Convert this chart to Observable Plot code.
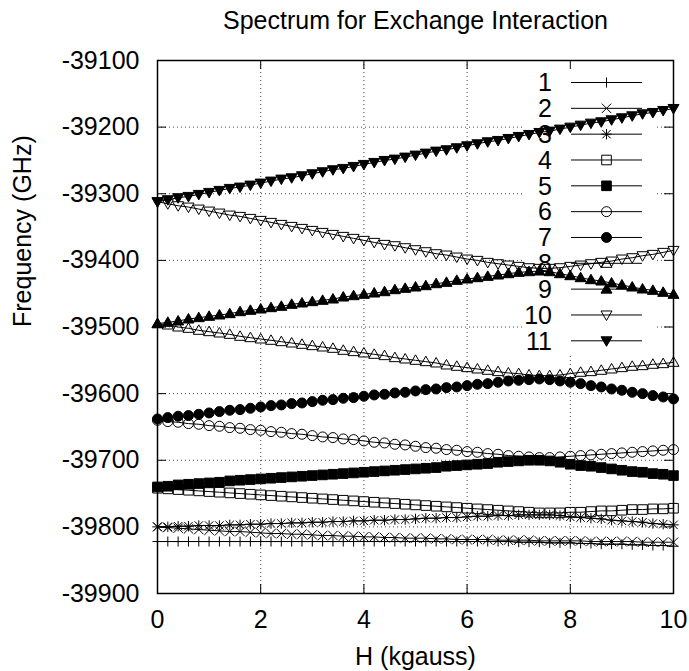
<!DOCTYPE html>
<html>
<head>
<meta charset="utf-8">
<script src="https://cdn.jsdelivr.net/npm/d3@7"></script>
<script src="https://cdn.jsdelivr.net/npm/@observablehq/plot@0.6"></script>
<style>
  html, body { margin: 0; padding: 0; background: #fff; }
  #chart { width: 689px; height: 671px; }
</style>
</head>
<body>
<div id="chart"></div>
<script>
// ---- Data ----
const H = [0,0.2,0.4,0.6,0.8,1,1.2,1.4,1.6,1.8,2,2.2,2.4,2.6,2.8,3,3.2,3.4,3.6,3.8,4,4.2,4.4,4.6,4.8,5,5.2,5.4,5.6,5.8,6,6.2,6.4,6.6,6.8,7,7.2,7.4,7.6,7.8,8,8.2,8.4,8.6,8.8,9,9.2,9.4,9.6,9.8,10];

const s1 = [-39822,-39822,-39822,-39822,-39822,-39822,-39822,-39822,-39822,-39822,-39822,-39822,-39822,-39822,-39822,-39822,-39822,-39822,-39822,-39822,-39822,-39822,-39822,-39822,-39822,-39822,-39822,-39822,-39822,-39822,-39822,-39822,-39822,-39822,-39822,-39823,-39823,-39823,-39824,-39824,-39824,-39825,-39825,-39826,-39826,-39826,-39827,-39827,-39828,-39828,-39829];
const s2 = [-39800,-39801,-39802,-39803,-39804,-39805,-39806,-39807,-39807,-39808,-39809,-39810,-39810,-39811,-39811,-39812,-39813,-39813,-39814,-39814,-39815,-39815,-39816,-39816,-39817,-39817,-39817,-39818,-39818,-39819,-39819,-39819,-39819,-39820,-39820,-39820,-39820,-39821,-39821,-39821,-39821,-39821,-39822,-39822,-39822,-39822,-39822,-39823,-39823,-39823,-39823];
const s3 = [-39800,-39800,-39799,-39799,-39798,-39798,-39798,-39797,-39797,-39796,-39796,-39795,-39795,-39794,-39794,-39793,-39793,-39792,-39792,-39791,-39791,-39790,-39790,-39789,-39789,-39788,-39787,-39787,-39786,-39786,-39785,-39784,-39784,-39783,-39783,-39782,-39782,-39782,-39782,-39783,-39785,-39786,-39787,-39788,-39790,-39791,-39792,-39793,-39795,-39796,-39797];
const s4 = [-39742,-39743,-39744,-39745,-39746,-39747,-39748,-39749,-39750,-39751,-39752,-39753,-39754,-39755,-39756,-39757,-39758,-39759,-39760,-39761,-39762,-39763,-39764,-39765,-39766,-39767,-39768,-39769,-39770,-39771,-39772,-39773,-39774,-39775,-39776,-39777,-39778,-39779,-39779,-39779,-39778,-39778,-39777,-39776,-39776,-39775,-39774,-39774,-39773,-39773,-39772];
const s5 = [-39740,-39739,-39737,-39736,-39735,-39734,-39733,-39731,-39730,-39729,-39728,-39727,-39726,-39725,-39724,-39723,-39722,-39721,-39720,-39719,-39718,-39717,-39716,-39715,-39714,-39713,-39712,-39711,-39709,-39708,-39707,-39706,-39705,-39703,-39702,-39701,-39700,-39700,-39701,-39703,-39706,-39708,-39709,-39711,-39713,-39715,-39717,-39718,-39720,-39721,-39723];
const s6 = [-39640,-39642,-39643,-39645,-39646,-39648,-39649,-39651,-39652,-39654,-39655,-39657,-39658,-39660,-39661,-39663,-39665,-39666,-39668,-39669,-39671,-39673,-39674,-39676,-39677,-39679,-39681,-39682,-39684,-39685,-39687,-39688,-39690,-39691,-39693,-39694,-39695,-39696,-39696,-39695,-39694,-39693,-39692,-39691,-39690,-39689,-39688,-39687,-39686,-39685,-39684];
const s7 = [-39638,-39636,-39634,-39633,-39631,-39629,-39627,-39625,-39624,-39622,-39620,-39618,-39617,-39615,-39614,-39612,-39610,-39609,-39607,-39606,-39604,-39602,-39601,-39599,-39598,-39596,-39594,-39593,-39591,-39590,-39588,-39586,-39585,-39583,-39581,-39580,-39579,-39578,-39579,-39581,-39583,-39585,-39588,-39590,-39593,-39595,-39598,-39600,-39603,-39605,-39608];
const s8 = [-39495,-39497,-39500,-39502,-39505,-39507,-39509,-39511,-39514,-39516,-39518,-39520,-39522,-39524,-39526,-39528,-39530,-39532,-39535,-39537,-39539,-39541,-39543,-39546,-39548,-39550,-39552,-39554,-39557,-39559,-39561,-39563,-39565,-39567,-39569,-39570,-39572,-39573,-39573,-39572,-39570,-39568,-39567,-39565,-39563,-39561,-39559,-39558,-39556,-39555,-39553];
const s9 = [-39495,-39493,-39491,-39488,-39486,-39484,-39482,-39480,-39477,-39475,-39473,-39471,-39469,-39466,-39464,-39462,-39460,-39458,-39455,-39453,-39451,-39449,-39447,-39444,-39442,-39440,-39438,-39435,-39433,-39430,-39428,-39426,-39424,-39422,-39420,-39418,-39417,-39416,-39417,-39420,-39423,-39426,-39429,-39431,-39434,-39437,-39440,-39443,-39445,-39448,-39451];
const s10 = [-39312,-39315,-39318,-39320,-39323,-39326,-39329,-39332,-39334,-39337,-39340,-39343,-39346,-39349,-39352,-39355,-39358,-39361,-39364,-39367,-39370,-39373,-39376,-39378,-39381,-39384,-39387,-39390,-39392,-39395,-39398,-39400,-39403,-39405,-39407,-39409,-39411,-39412,-39412,-39411,-39409,-39407,-39405,-39403,-39401,-39398,-39396,-39393,-39391,-39388,-39385];
const s11 = [-39312,-39309,-39306,-39304,-39301,-39298,-39295,-39292,-39290,-39287,-39284,-39281,-39278,-39276,-39273,-39270,-39267,-39264,-39262,-39259,-39256,-39253,-39250,-39248,-39245,-39242,-39239,-39236,-39234,-39231,-39228,-39225,-39222,-39220,-39217,-39214,-39211,-39208,-39206,-39203,-39200,-39197,-39194,-39192,-39189,-39186,-39183,-39180,-39178,-39175,-39172];

const seriesNames = ["1","2","3","4","5","6","7","8","9","10","11"];
const seriesValues = [s1,s2,s3,s4,s5,s6,s7,s8,s9,s10,s11];
const xTicks = [0,2,4,6,8,10];
const yTicks = [-39900,-39800,-39700,-39600,-39500,-39400,-39300,-39200,-39100];
const xGrid = [2,4,6,8];
const yGrid = [-39800,-39700,-39600,-39500,-39400,-39300,-39200];
const titleText = "Spectrum for Exchange Interaction";
const xLabel = "H (kgauss)";
const yLabel = "Frequency (GHz)";

// ---- Marker shapes (gnuplot style) ----
const sym = {
  plus:   {draw(c){ c.moveTo(-5,0); c.lineTo(5,0); c.moveTo(0,-5); c.lineTo(0,5); }},
  times:  {draw(c){ c.moveTo(-4.7,-4.7); c.lineTo(4.7,4.7); c.moveTo(-4.7,4.7); c.lineTo(4.7,-4.7); }},
  star:   {draw(c){ c.moveTo(-5.2,0); c.lineTo(5.2,0); c.moveTo(0,-5.2); c.lineTo(0,5.2);
                    c.moveTo(-4.2,-4.2); c.lineTo(4.2,4.2); c.moveTo(-4.2,4.2); c.lineTo(4.2,-4.2); }},
  square: {draw(c){ c.moveTo(-4.8,-4.8); c.lineTo(4.8,-4.8); c.lineTo(4.8,4.8); c.lineTo(-4.8,4.8); c.closePath(); }},
  circle: {draw(c){ c.moveTo(5,0); c.arc(0,0,5,0,2*Math.PI); c.closePath(); }},
  up:     {draw(c){ c.moveTo(0,-5.5); c.lineTo(5.5,4); c.lineTo(-5.5,4); c.closePath(); }},
  down:   {draw(c){ c.moveTo(0,5.5); c.lineTo(5.5,-4); c.lineTo(-5.5,-4); c.closePath(); }}
};
const styles = [
  {symbol: sym.plus, fill: "none"},
  {symbol: sym.times, fill: "none"},
  {symbol: sym.star, fill: "none"},
  {symbol: sym.square, fill: "none"},
  {symbol: sym.square, fill: "black"},
  {symbol: sym.circle, fill: "none"},
  {symbol: sym.circle, fill: "black"},
  {symbol: sym.up, fill: "none"},
  {symbol: sym.up, fill: "black"},
  {symbol: sym.down, fill: "none"},
  {symbol: sym.down, fill: "black"}
];

const rowsBySeries = seriesValues.map((vals, i) =>
  vals.map((v, j) => ({h: H[j], f: v, s: seriesNames[i]})));

const W = 689, HT = 671;
const mL = 157, mR = 16, mT = 60, mB = 78;
const frameW = W - mL - mR, frameH = HT - mT - mB;
const FONT = 25;

const seriesMarks = rowsBySeries.flatMap((rows, i) => [
  Plot.line(rows, {x: "h", y: "f", stroke: "black", strokeWidth: 1}),
  Plot.dot(rows, {x: "h", y: "f", symbol: styles[i].symbol, r: 5,
                  fill: styles[i].fill, stroke: "black", strokeWidth: 1})
]);

const chart = Plot.plot({
  width: W, height: HT,
  marginLeft: mL, marginRight: mR, marginTop: mT, marginBottom: mB,
  style: {fontFamily: "'Liberation Sans', Arial, sans-serif", background: "white", color: "black"},
  x: {domain: [0, 10], label: null},
  y: {domain: [-39900, -39100], label: null},
  marks: [
    Plot.gridX(xGrid, {stroke: "#444", strokeOpacity: 1, strokeDasharray: "1,3", strokeWidth: 1}),
    Plot.gridY(yGrid, {stroke: "#444", strokeOpacity: 1, strokeDasharray: "1,3", strokeWidth: 1}),
    Plot.tickX(xTicks, {x: d => d, insetTop: frameH - 9, stroke: "black"}),
    Plot.tickX(xTicks, {x: d => d, insetBottom: frameH - 9, stroke: "black"}),
    Plot.tickY(yTicks, {y: d => d, insetRight: frameW - 9, stroke: "black"}),
    Plot.tickY(yTicks, {y: d => d, insetLeft: frameW - 9, stroke: "black"}),
    ...seriesMarks,
    Plot.axisX(xTicks, {tickSize: 0, tickPadding: 17, fontSize: FONT, label: null, tickFormat: d => String(d)}),
    Plot.axisY(yTicks, {tickSize: 0, tickPadding: 18, fontSize: FONT, label: null, tickFormat: d => String(d)}),
    Plot.text([titleText], {frameAnchor: "top", dy: -40, fontSize: FONT, lineAnchor: "middle"}),
    Plot.text([xLabel], {frameAnchor: "bottom", dy: 63, fontSize: FONT, lineAnchor: "middle"}),
    Plot.text([yLabel], {frameAnchor: "left", dx: -135, rotate: -90, fontSize: FONT, lineAnchor: "middle"}),
    Plot.frame({stroke: "black", strokeWidth: 1.5})
  ]
});

// Legend box (blanks the grid like gnuplot's key) inserted after the grids
const svg = d3.select(chart);
const grids = chart.querySelectorAll('[aria-label="y-grid"]');
const lastGrid = grids[grids.length - 1];
const blank = document.createElementNS("http://www.w3.org/2000/svg", "rect");
blank.setAttribute("x", 523); blank.setAttribute("y", 61);
blank.setAttribute("width", 134); blank.setAttribute("height", 294);
blank.setAttribute("fill", "white");
lastGrid.parentNode.insertBefore(blank, lastGrid.nextSibling);

// Legend entries
const lg = svg.append("g").attr("class", "legend");
seriesNames.forEach((name, i) => {
  const cy = 82.5 + i * 25.83;
  lg.append("text").attr("x", 552).attr("y", cy).attr("dy", "0.35em")
    .attr("text-anchor", "end").attr("font-size", FONT).attr("fill", "black").text(name);
  lg.append("line").attr("x1", 571).attr("x2", 642).attr("y1", cy).attr("y2", cy)
    .attr("stroke", "black").attr("stroke-width", 1);
  lg.append("path").attr("transform", `translate(606.5,${cy})`)
    .attr("d", d3.symbol(styles[i].symbol)())
    .attr("fill", styles[i].fill).attr("stroke", "black").attr("stroke-width", 1);
});

document.getElementById("chart").appendChild(chart);
</script>
</body>
</html>
